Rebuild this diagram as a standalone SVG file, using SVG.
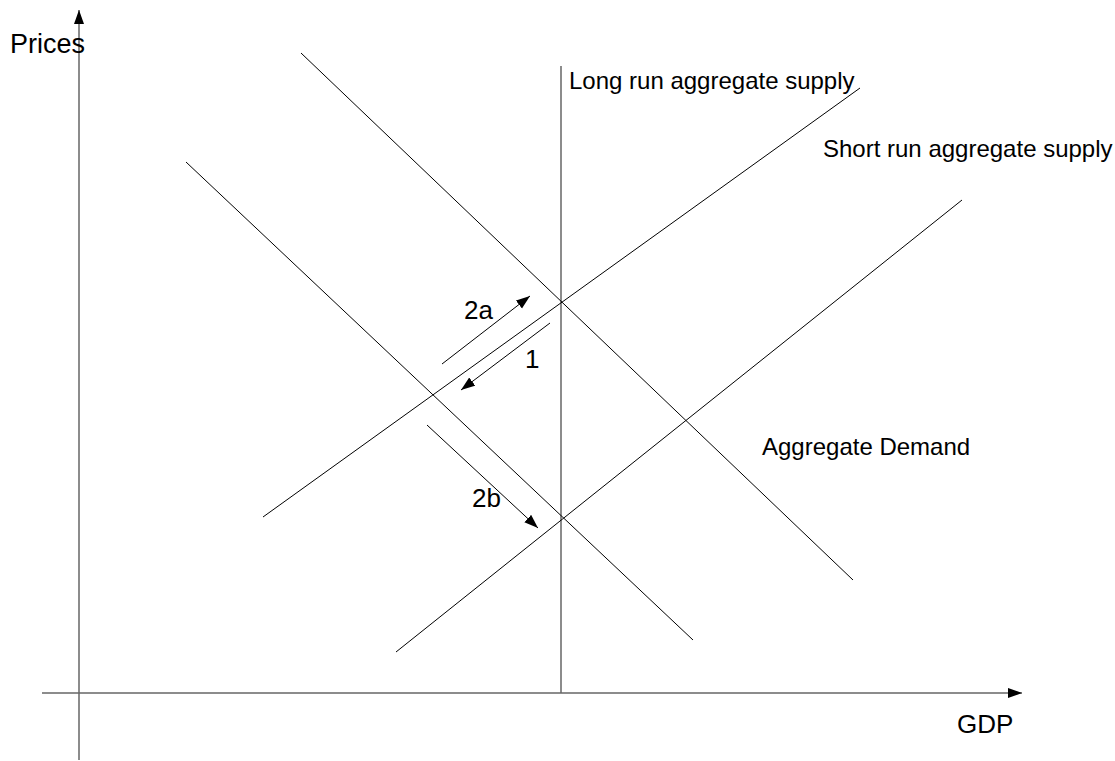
<svg xmlns="http://www.w3.org/2000/svg" width="1115" height="761" viewBox="0 0 1115 761">
<style>
  .ln { stroke: #000; stroke-width: 1; fill: none; }
  .ax { stroke: #666; stroke-width: 1.5; fill: none; }
  .lbl { font-family: "Liberation Sans", Arial, sans-serif; font-size: 24px; fill: #000; }
  .big { font-size: 26px; }
</style>
<defs>
  <marker id="ah" markerUnits="userSpaceOnUse" markerWidth="16" markerHeight="12" refX="14" refY="5" orient="auto">
    <path d="M0,0 L14,5 L0,10 z" fill="#000"/>
  </marker>
</defs>
<rect width="1115" height="761" fill="#fff"/>
<g id="axes">
  <line class="ax" x1="79" y1="760" x2="79" y2="10" marker-end="url(#ah)"/>
  <line class="ax" x1="42" y1="693" x2="1022" y2="693" marker-end="url(#ah)"/>
</g>
<g id="connectors">
  <line id="lras" class="ax" x1="561" y1="66" x2="561" y2="693"/>
  <line id="ad1" class="ln" x1="301" y1="53" x2="853" y2="580"/>
  <line id="ad2" class="ln" x1="186" y1="162" x2="693" y2="640"/>
  <line id="sras1" class="ln" x1="263" y1="517" x2="860" y2="88"/>
  <line id="sras2" class="ln" x1="396" y1="652" x2="962" y2="200"/>
  <line id="arrow2a" class="ln" x1="442" y1="364" x2="530" y2="296" marker-end="url(#ah)"/>
  <line id="arrow1" class="ln" x1="550" y1="323" x2="461" y2="390" marker-end="url(#ah)"/>
  <line id="arrow2b" class="ln" x1="427" y1="425" x2="538" y2="528" marker-end="url(#ah)"/>
</g>
<g id="labels">
  <text class="lbl" x="10" y="53" style="font-size:27px">Prices</text>
  <text class="lbl big" x="957" y="733">GDP</text>
  <text class="lbl" x="569" y="89">Long run aggregate supply</text>
  <text class="lbl" x="823" y="157">Short run aggregate supply</text>
  <text class="lbl" x="762" y="455">Aggregate Demand</text>
  <text class="lbl big" x="464" y="319">2a</text>
  <text class="lbl big" x="525" y="368">1</text>
  <text class="lbl big" x="472" y="507">2b</text>
</g>
</svg>
